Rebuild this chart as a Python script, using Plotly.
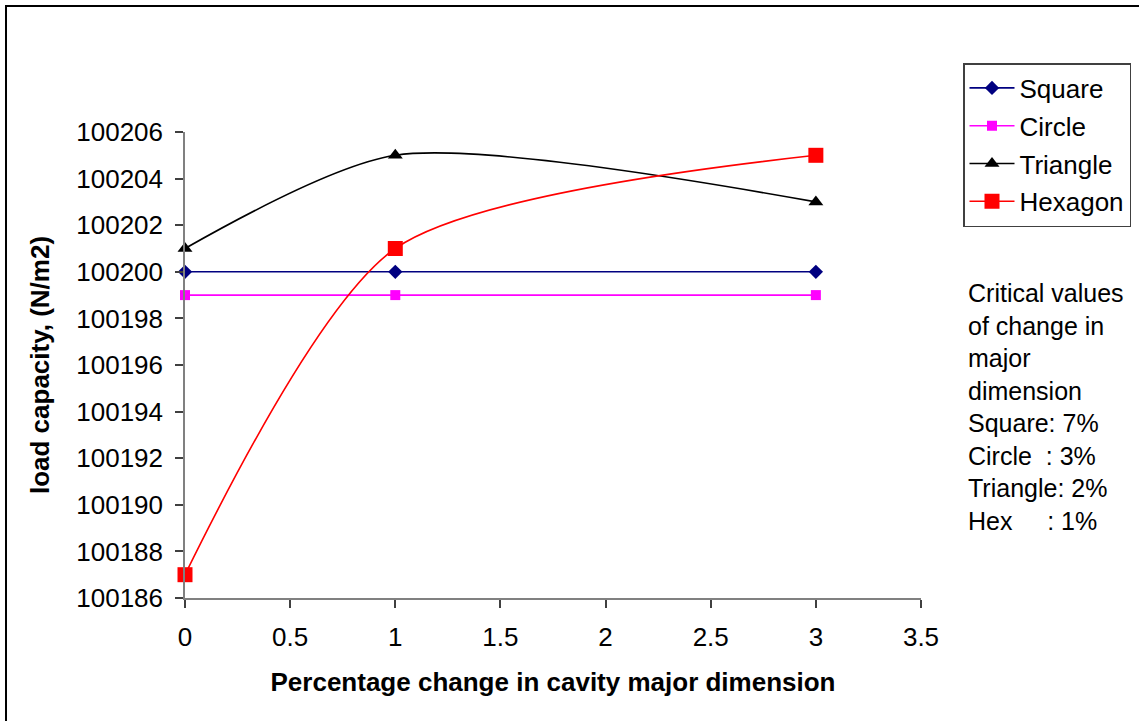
import plotly.graph_objects as go

# Percentage change in cavity major dimension
pct_change = [0, 1, 3]

# Load capacity (N/m2) for each cavity shape
square = [100200, 100200, 100200]
circle = [100199, 100199, 100199]
triangle = [100201, 100205, 100203]
hexagon = [100187, 100201, 100205]

y_ticks = list(range(100186, 100207, 2))
x_ticks = [0, 0.5, 1, 1.5, 2, 2.5, 3, 3.5]

critical_lines = [
    "Critical values",
    "of change in",
    "major",
    "dimension",
    "Square: 7%",
    "Circle\u00a0\u00a0: 3%",
    "Triangle: 2%",
    "Hex\u00a0\u00a0\u00a0\u00a0\u00a0: 1%",
]

FONT = "Arial, Liberation Sans, sans-serif"

fig = go.Figure()

series = [
    ("Square", square, "#000080", "diamond", 11, "linear"),
    ("Circle", circle, "#ff00ff", "square", 10, "linear"),
    ("Triangle", triangle, "#000000", "triangle-up", 13, "spline"),
    ("Hexagon", hexagon, "#ff0000", "square", 15, "spline"),
]
for name, vals, color, symbol, size, shape in series:
    fig.add_trace(go.Scatter(
        x=pct_change, y=vals, name=name, mode="lines+markers",
        line=dict(color=color, width=1.6, shape=shape, smoothing=0.75),
        marker=dict(symbol=symbol, size=size, color=color),
        legendgroup=name, cliponaxis=False,
    ))

axis_common = dict(
    showgrid=False, zeroline=False, showline=True, linecolor="#808080",
    linewidth=1.5, ticks="outside", ticklen=8, tickcolor="#404040",
    tickwidth=1.5, tickfont=dict(family=FONT, size=26, color="black"),
    ticklabelstandoff=7,
)

fig.update_xaxes(
    range=[0, 3.5], tickvals=x_ticks,
    ticktext=[f"{v:g}" for v in x_ticks],
    title=dict(text="<b>Percentage change in cavity major dimension</b>",
               font=dict(family=FONT, size=26, color="black"), standoff=22),
    **axis_common,
)
fig.update_yaxes(
    range=[100186, 100206], tickvals=y_ticks,
    ticktext=[str(v) for v in y_ticks],
    title=dict(text="<b>load capacity, (N/m2)</b>",
               font=dict(family=FONT, size=26, color="black"), standoff=19),
    **axis_common,
)

fig.add_annotation(
    xref="paper", yref="paper", x=1.061, y=0.688,
    xanchor="left", yanchor="top", align="left", showarrow=False,
    text="<br>".join(critical_lines),
    font=dict(family=FONT, size=25, color="black"),
)

# Outer chart frame
fig.add_shape(
    type="rect", xref="paper", yref="paper",
    x0=-0.2432, x1=1.31, y0=-0.30, y1=1.2704,
    line=dict(color="#000000", width=2), layer="below",
)

fig.update_layout(
    width=1139, height=721,
    margin=dict(l=185, r=218, t=132, b=123),
    paper_bgcolor="white", plot_bgcolor="white",
    font=dict(family=FONT, size=26, color="black"),
    legend=dict(
        xref="container", yref="container",
        x=963 / 1139, y=1 - 63 / 721, xanchor="left", yanchor="top",
        bordercolor="#404040", borderwidth=1.5, bgcolor="white",
        font=dict(family=FONT, size=26, color="black"),
        traceorder="grouped", tracegroupgap=1, itemwidth=45,
    ),
    showlegend=True,
)

fig.write_html("out.html")
